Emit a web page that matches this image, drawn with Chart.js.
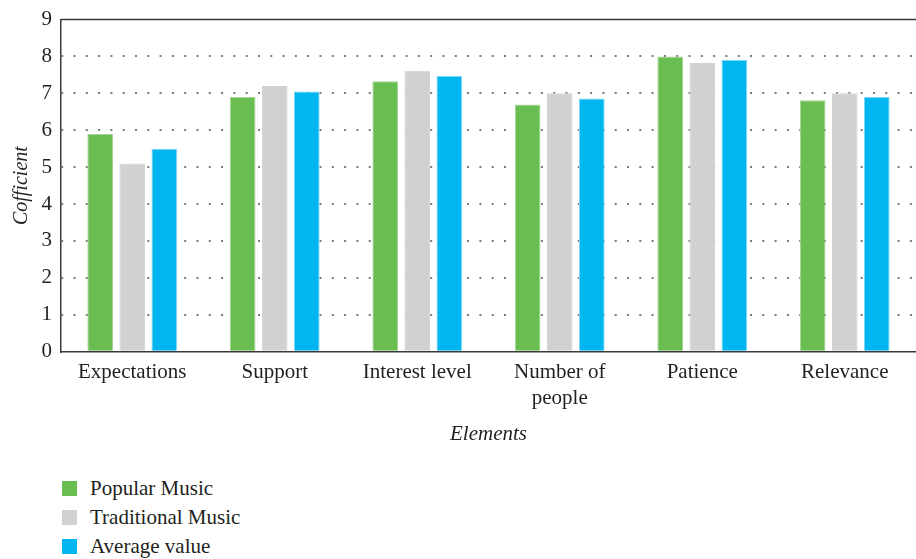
<!DOCTYPE html>
<html>
<head>
<meta charset="utf-8">
<script src="https://cdn.jsdelivr.net/npm/chart.js@4/dist/chart.umd.min.js"></script>
<style>
  body { margin: 0; background: #fff; }
  #wrap { position: relative; width: 916px; height: 451px; }
  #legend { margin: 23px 0 0 62px; font-family: "Liberation Serif", serif; font-size: 21px; color: #231f20; }
  .item { display: flex; align-items: center; height: 29px; }
  .box { width: 15px; height: 15px; margin-right: 13px; }
</style>
</head>
<body>
<div id="wrap"><canvas id="chart"></canvas></div>
<div id="legend"></div>
<script>
const categories = ["Expectations", "Support", "Interest level", ["Number of", "people"], "Patience", "Relevance"];
const popularMusic = [5.9, 6.9, 7.33, 6.7, 8.0, 6.81];
const traditionalMusic = [5.1, 7.2, 7.61, 7.0, 7.82, 7.0];
const averageValue = [5.5, 7.05, 7.47, 6.86, 7.9, 6.9];
const yTicks = [0, 1, 2, 3, 4, 5, 6, 7, 8, 9];

const serif = "'Liberation Serif', serif";

// solid line along the top of the plot
const topLine = {
  id: "topLine",
  beforeDatasetsDraw(chart) {
    const { ctx, chartArea } = chart;
    ctx.save();
    ctx.strokeStyle = "#3a3a3a";
    ctx.lineWidth = 1.5;
    ctx.beginPath();
    ctx.moveTo(chartArea.left, chartArea.top);
    ctx.lineTo(chartArea.right, chartArea.top);
    ctx.stroke();
    ctx.restore();
  },
};

const chart = new Chart(document.getElementById("chart"), {
  type: "bar",
  data: {
    labels: categories,
    datasets: [
      { label: "Popular Music", data: popularMusic, backgroundColor: "#6abd50", borderColor: "#a3d692", borderWidth: 1 },
      { label: "Traditional Music", data: traditionalMusic, backgroundColor: "#d0d1d3", borderColor: "#d0d1d3", borderWidth: 1 },
      { label: "Average value", data: averageValue, backgroundColor: "#00b5f0", borderColor: "#7dd6f6", borderWidth: 1 },
    ],
  },
  options: {
    responsive: true,
    maintainAspectRatio: false,
    animation: false,
    categoryPercentage: 0.675,
    barPercentage: 0.8,
    layout: { padding: { top: 0, right: 0, bottom: 0, left: 0 } },
    scales: {
      x: {
        grid: { display: false },
        border: { color: "#3a3a3a", width: 1.5 },
        ticks: { color: "#231f20", font: { family: serif, size: 21, lineHeight: 1.24 }, padding: 0, maxRotation: 0 },
        title: { display: true, text: "Elements", color: "#231f20", font: { family: serif, size: 21, style: "italic" }, padding: { top: 10, bottom: 4 } },
      },
      y: {
        min: 0,
        max: 9,
        afterBuildTicks(scale) {
          scale.ticks = yTicks.map((v) => ({ value: v }));
        },
        afterFit(scale) {
          scale.width = 61;
        },
        grid: {
          drawTicks: false,
          color: (ctx) => (ctx.tick && ctx.tick.value > 0 && ctx.tick.value < 9 ? "#7a7a7a" : "transparent"),
          lineWidth: 2,
        },
        border: { color: "#3a3a3a", width: 1.5, dash: [2, 10.3], dashOffset: -12 },
        ticks: { color: "#231f20", font: { family: serif, size: 21, lineHeight: 1 }, padding: 9 },
        title: { display: true, text: "Cofficient", color: "#231f20", font: { family: serif, size: 20, style: "italic" }, padding: { top: 10, bottom: 0 } },
      },
    },
    plugins: {
      legend: { display: false },
      tooltip: { enabled: false },
    },
  },
  plugins: [topLine],
});

// legend stacked under the chart
const legend = document.getElementById("legend");
chart.data.datasets.forEach((ds) => {
  const item = document.createElement("div");
  item.className = "item";
  const box = document.createElement("span");
  box.className = "box";
  box.style.background = ds.backgroundColor;
  const text = document.createElement("span");
  text.innerText = ds.label;
  item.appendChild(box);
  item.appendChild(text);
  legend.appendChild(item);
});
</script>
</body>
</html>
